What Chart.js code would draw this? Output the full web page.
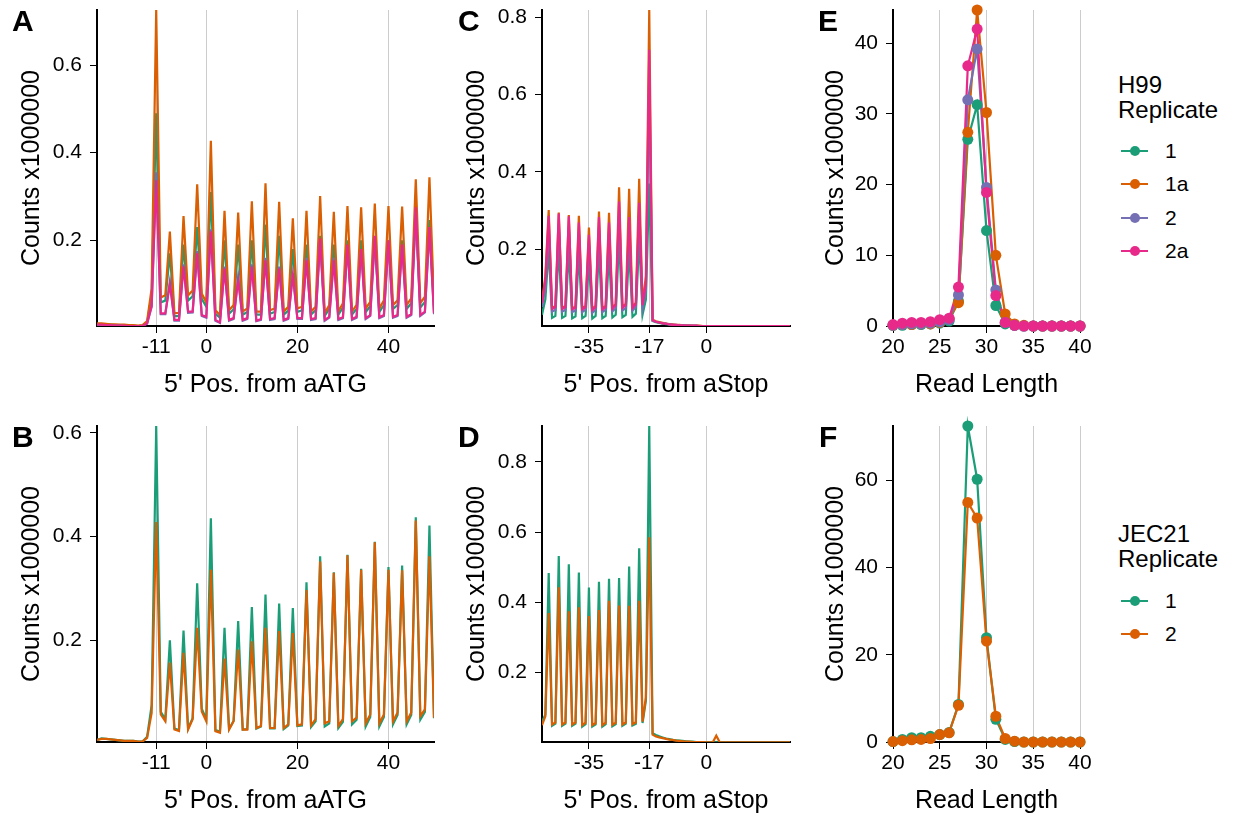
<!DOCTYPE html>
<html>
<head>
<meta charset="utf-8">
<script src="https://cdn.jsdelivr.net/npm/chart.js@4.4.1/dist/chart.umd.min.js"></script>
<style>
  body { margin: 0; background: #fff; width: 1238px; height: 821px; position: relative; overflow: hidden;
         font-family: "Liberation Sans", Arial, sans-serif; color: #000; }
  canvas { position: absolute; }
  .tag { position: absolute; font-weight: bold; font-size: 30px; line-height: 30px; }
  .legend-title { position: absolute; left: 1118px; font-size: 24px; line-height: 25px; }
  .legend-item { position: absolute; left: 1118px; height: 34px; line-height: 34px; font-size: 21px; }
  .legend-item .key-line { position: absolute; left: 3px; top: 16px; width: 27px; height: 2px; }
  .legend-item .key-dot { position: absolute; left: 11.5px; top: 12px; width: 10px; height: 10px; border-radius: 50%; }
  .legend-item .key-text { position: absolute; left: 47px; top: 0; white-space: nowrap; }
</style>
</head>
<body>
<script>
// colours (Dark2)
const cGreen = '#1B9E77', cOrange = '#D95F02', cPurple = '#7570B3', cPink = '#E7298A';

// x positions
const posATG = Array.from({length: 75}, (_, i) => i - 24);   // -24 .. 50
const posStop = Array.from({length: 75}, (_, i) => i - 49);  // -49 .. 25
const readLengths = [20,21,22,23,24,25,26,27,28,29,30,31,32,33,34,35,36,37,38,39,40];

// panel A: H99, aATG
const aatgH99_1 = [0.008,0.008,0.007,0.007,0.006,0.006,0.005,0.005,0.005,0.004,0.005,0.012,
  0.075,0.490,0.058,0.062, 0.170,0.026,0.027, 0.190,0.062,0.072, 0.230,0.066,0.048, 0.310,0.032,0.023,
  0.200,0.032,0.042, 0.190,0.030,0.036, 0.200,0.030,0.030, 0.236,0.032,0.036, 0.210,0.030,0.039,
  0.180,0.036,0.040, 0.190,0.030,0.040, 0.210,0.027,0.043, 0.190,0.030,0.046, 0.200,0.030,0.043,
  0.200,0.036,0.049, 0.205,0.036,0.052, 0.200,0.043,0.052, 0.200,0.043,0.056, 0.260,0.046,0.059,
  0.246,0.050];
const aatgH99_1a = [0.010,0.010,0.009,0.008,0.008,0.007,0.007,0.006,0.006,0.005,0.006,0.015,
  0.090,0.726,0.069,0.074, 0.220,0.033,0.034, 0.255,0.074,0.085, 0.328,0.078,0.058, 0.427,0.040,0.029,
  0.267,0.040,0.052, 0.263,0.037,0.044, 0.289,0.037,0.037, 0.330,0.040,0.044, 0.288,0.037,0.048,
  0.250,0.044,0.048, 0.267,0.037,0.048, 0.301,0.033,0.052, 0.265,0.037,0.056, 0.278,0.037,0.052,
  0.275,0.044,0.059, 0.284,0.044,0.063, 0.278,0.052,0.063, 0.277,0.052,0.067, 0.339,0.056,0.071,
  0.344,0.060];
const aatgH99_2 = [0.006,0.006,0.006,0.005,0.005,0.005,0.004,0.004,0.004,0.003,0.004,0.009,
  0.048,0.355,0.031,0.031, 0.105,0.016,0.016, 0.145,0.034,0.035, 0.175,0.027,0.023, 0.225,0.016,0.011,
  0.140,0.016,0.020, 0.115,0.016,0.020, 0.145,0.015,0.018, 0.160,0.018,0.020, 0.140,0.016,0.020,
  0.125,0.020,0.020, 0.160,0.018,0.020, 0.200,0.016,0.023, 0.160,0.018,0.022, 0.185,0.018,0.023,
  0.180,0.020,0.027, 0.205,0.022,0.027, 0.195,0.023,0.027, 0.190,0.023,0.029, 0.265,0.027,0.035,
  0.225,0.031];
const aatgH99_2a = [0.007,0.007,0.006,0.006,0.005,0.005,0.005,0.004,0.004,0.004,0.004,0.010,
  0.050,0.337,0.033,0.033, 0.100,0.018,0.018, 0.140,0.037,0.037, 0.170,0.029,0.025, 0.220,0.018,0.012,
  0.135,0.018,0.022, 0.110,0.018,0.022, 0.140,0.016,0.020, 0.154,0.020,0.022, 0.135,0.018,0.022,
  0.120,0.022,0.022, 0.154,0.020,0.022, 0.204,0.018,0.025, 0.154,0.020,0.024, 0.190,0.020,0.025,
  0.180,0.022,0.029, 0.210,0.024,0.029, 0.200,0.025,0.029, 0.190,0.025,0.031, 0.275,0.029,0.037,
  0.230,0.033];

// panel B: JEC21, aATG
const aatgJEC_1 = [0.008,0.011,0.010,0.009,0.008,0.007,0.006,0.006,0.006,0.005,0.005,0.014,
  0.075,0.613,0.062,0.048, 0.200,0.030,0.027, 0.219,0.030,0.050, 0.310,0.068,0.048, 0.435,0.027,0.024,
  0.224,0.029,0.045, 0.237,0.028,0.029, 0.264,0.030,0.034, 0.288,0.030,0.030, 0.271,0.029,0.036,
  0.262,0.035,0.036, 0.312,0.033,0.044, 0.362,0.034,0.040, 0.331,0.031,0.043, 0.365,0.038,0.047,
  0.338,0.034,0.052, 0.390,0.034,0.052, 0.341,0.038,0.056, 0.344,0.038,0.056, 0.437,0.047,0.062,
  0.421,0.050];
const aatgJEC_2 = [0.008,0.010,0.010,0.009,0.008,0.007,0.006,0.006,0.006,0.005,0.005,0.012,
  0.060,0.428,0.057,0.044, 0.157,0.028,0.025, 0.176,0.028,0.048, 0.224,0.063,0.044, 0.336,0.025,0.022,
  0.165,0.028,0.044, 0.182,0.028,0.028, 0.198,0.031,0.035, 0.224,0.031,0.031, 0.218,0.031,0.038,
  0.214,0.036,0.038, 0.297,0.036,0.048, 0.352,0.040,0.044, 0.330,0.035,0.048, 0.364,0.044,0.051,
  0.336,0.040,0.057, 0.389,0.040,0.057, 0.336,0.044,0.061, 0.335,0.044,0.061, 0.431,0.054,0.067,
  0.362,0.051];

// panel C: H99, aStop
const astopH99_1 = [0.030,0.070,
  0.200,0.022,0.027, 0.205,0.022,0.027, 0.200,0.021,0.026, 0.190,0.021,0.027, 0.170,0.020,0.027,
  0.200,0.021,0.027, 0.190,0.023,0.030, 0.230,0.024,0.030, 0.200,0.025,0.033, 0.230,0.030,0.070,
  0.370,
  0.014,0.011,0.009,0.007,0.006,0.005,0.004,0.003,0.003,0.002,0.002,0.002,0.001,0.001,0.001,0.001,0.001,
  0.001,0.001,0.001,0.001,0.001,0.001,0.001,0.001,0.001,0.001,0.001,0.001,0.001,
  0.001,0.001,0.001,0.001,0.001,0.001,0.001,0.001,0.001,0.001,0.001,0.001];
const astopH99_1a = [0.065,0.130,
  0.301,0.048,0.053, 0.295,0.048,0.053, 0.288,0.047,0.051, 0.286,0.047,0.053, 0.256,0.045,0.053,
  0.297,0.047,0.053, 0.294,0.049,0.058, 0.360,0.051,0.058, 0.356,0.051,0.061, 0.382,0.058,0.130,
  0.819,
  0.017,0.013,0.011,0.009,0.007,0.006,0.005,0.004,0.004,0.003,0.003,0.002,0.002,0.002,0.002,0.001,0.001,
  0.001,0.001,0.001,0.001,0.001,0.001,0.001,0.001,0.001,0.001,0.001,0.001,0.001,
  0.001,0.001,0.001,0.001,0.001,0.001,0.001,0.001,0.001,0.001,0.001,0.001];
const astopH99_2 = [0.050,0.100,
  0.260,0.038,0.043, 0.265,0.038,0.043, 0.258,0.037,0.041, 0.245,0.037,0.043, 0.215,0.035,0.043,
  0.255,0.037,0.043, 0.245,0.039,0.047, 0.295,0.041,0.047, 0.260,0.041,0.050, 0.290,0.047,0.095,
  0.640,
  0.015,0.012,0.010,0.008,0.007,0.005,0.004,0.004,0.003,0.003,0.002,0.002,0.002,0.002,0.001,0.001,0.001,
  0.001,0.001,0.001,0.001,0.001,0.001,0.001,0.001,0.001,0.001,0.001,0.001,0.001,
  0.001,0.001,0.001,0.001,0.001,0.001,0.001,0.001,0.001,0.001,0.001,0.001];
const astopH99_2a = [0.060,0.120,
  0.286,0.045,0.050, 0.292,0.045,0.050, 0.285,0.044,0.048, 0.269,0.044,0.050, 0.237,0.042,0.050,
  0.283,0.044,0.050, 0.269,0.046,0.055, 0.323,0.048,0.055, 0.283,0.048,0.058, 0.320,0.055,0.110,
  0.716,
  0.016,0.012,0.010,0.008,0.007,0.005,0.004,0.004,0.003,0.003,0.002,0.002,0.002,0.002,0.001,0.001,0.001,
  0.001,0.001,0.001,0.001,0.001,0.001,0.001,0.001,0.001,0.001,0.001,0.001,0.001,
  0.001,0.001,0.001,0.001,0.001,0.001,0.001,0.001,0.001,0.001,0.001,0.001];

// panel D: JEC21, aStop
const astopJEC_1 = [0.060,0.080,
  0.483,0.048,0.054, 0.532,0.048,0.054, 0.508,0.048,0.054, 0.485,0.046,0.053, 0.442,0.046,0.052,
  0.458,0.046,0.053, 0.467,0.047,0.053, 0.469,0.048,0.054, 0.502,0.049,0.054, 0.554,0.056,0.120,
  0.902,
  0.027,0.022,0.018,0.015,0.012,0.010,0.008,0.007,0.006,0.005,0.004,0.003,0.003,0.002,0.002,0.002,0.002,
  0.001,0.001,0.001,0.001,0.001,0.001,0.001,0.001,0.001,0.001,0.001,0.001,0.001,
  0.001,0.001,0.001,0.001,0.001,0.001,0.001,0.001,0.001,0.001,0.001,0.001];
const astopJEC_2 = [0.050,0.075,
  0.369,0.052,0.058, 0.443,0.052,0.058, 0.374,0.052,0.058, 0.386,0.050,0.057, 0.361,0.050,0.056,
  0.378,0.050,0.057, 0.404,0.051,0.057, 0.391,0.052,0.058, 0.390,0.053,0.058, 0.404,0.060,0.130,
  0.585,
  0.023,0.018,0.015,0.013,0.011,0.009,0.008,0.006,0.005,0.004,0.003,0.003,0.002,0.002,0.002,0.002,0.001,
  0.001,0.002,0.020,0.002,0.001,0.001,0.001,0.001,0.001,0.001,0.001,0.001,0.001,
  0.001,0.001,0.001,0.001,0.001,0.001,0.001,0.001,0.001,0.001,0.001,0.001];

// panel E / F: read length distributions
const lenH99_1  = [0.1,0.1,0.2,0.2,0.3,0.4,0.7,3.5,26.4,31.3,13.5,2.9,0.3,0.1,0,0,0,0,0,0,0];
const lenH99_1a = [0.1,0.2,0.2,0.3,0.3,0.5,1.0,3.3,27.4,44.7,30.2,10.0,1.7,0.3,0.1,0,0,0,0,0,0];
const lenH99_2  = [0.1,0.2,0.3,0.3,0.4,0.6,0.9,4.4,32.0,39.2,19.6,5.1,0.5,0.1,0,0,0,0,0,0,0];
const lenH99_2a = [0.2,0.4,0.5,0.5,0.6,0.9,1.1,5.5,36.8,42.0,18.9,4.3,0.5,0.1,0,0,0,0,0,0,0];
const lenJEC_1  = [0.1,0.6,1.0,1.0,1.3,1.7,2.2,8.6,72.4,60.2,23.9,5.2,0.6,0.1,0,0,0,0,0,0,0];
const lenJEC_2  = [0.1,0.3,0.5,0.6,0.8,1.7,2.1,8.4,54.9,51.3,23.1,5.9,0.8,0.2,0,0,0,0,0,0,0];

// ticks
const xTicksATG = [-11, 0, 20, 40];
const xTicksStop = [-35, -17, 0];
const xTicksLen = [20, 25, 30, 35, 40];
const yTicksAB = [0.2, 0.4, 0.6];
const yTicksCD = [0.2, 0.4, 0.6, 0.8];
const yTicksE = [0, 10, 20, 30, 40];
const yTicksF = [0, 20, 40, 60];

const h99Reps = ['1', '1a', '2', '2a'];
const h99Colors = [cGreen, cOrange, cPurple, cPink];
const jecReps = ['1', '2'];
const jecColors = [cGreen, cOrange];

const FONT = '"Liberation Sans", Arial, sans-serif';
Chart.defaults.font.family = FONT;
Chart.defaults.color = '#000';

function makePanel(o) {
    const W = o.yAxisWidth, H = 74, PT = 30, PR = 20;
    const w = W + (o.box.r - o.box.l) + PR;
    const h = PT + (o.box.b - o.box.t) + H;
    const cv = document.createElement('canvas');
    cv.width = w; cv.height = h;
    cv.style.width = w + 'px'; cv.style.height = h + 'px';
    cv.style.left = (o.box.l - W) + 'px';
    cv.style.top = (o.box.t - PT) + 'px';
    document.body.appendChild(cv);

    const datasets = [];
    o.series.forEach((vals, i) => {
        const pts = o.xs.map((x, j) => ({x: x, y: vals[j]}));
        const line = {
            data: pts, borderColor: o.colors[i], backgroundColor: o.colors[i],
            borderWidth: 2.2, pointRadius: 0, order: 100 - i
        };
        if (o.points) line.clip = false;
        datasets.push(line);
        if (o.points) {
            datasets.push({
                data: pts, showLine: false, pointRadius: 5.5, pointHoverRadius: 5.5,
                pointBackgroundColor: o.colors[i], pointBorderWidth: 0,
                order: 50 - i, clip: false
            });
        }
    });

    new Chart(cv, {
        type: 'line',
        data: { datasets: datasets },
        options: {
            responsive: false,
            animation: false,
            devicePixelRatio: 1,
            layout: { padding: { top: PT, right: PR, left: 0, bottom: 0 } },
            plugins: { legend: { display: false }, tooltip: { enabled: false } },
            elements: { line: { tension: 0 } },
            scales: {
                x: {
                    type: 'linear',
                    min: o.xMin, max: o.xMax,
                    afterBuildTicks: s => { s.ticks = o.xTicks.map(v => ({value: v})); },
                    afterFit: s => { s.height = H; },
                    grid: { color: '#cccccc', lineWidth: 1, tickColor: '#000', tickLength: 7, drawTicks: true },
                    border: { display: true, color: '#000', width: 2 },
                    ticks: { color: '#000', font: { size: 21 }, padding: 2, maxRotation: 0, autoSkip: false,
                             callback: v => String(v) },
                    title: { display: true, text: o.xTitle, color: '#000', font: { size: 25 },
                             padding: { top: 0, bottom: 0 } }
                },
                y: {
                    min: o.yMin, max: o.yMax,
                    afterBuildTicks: s => { s.ticks = o.yTicks.map(v => ({value: v})); },
                    afterFit: s => { s.width = W; },
                    grid: { drawOnChartArea: false, tickColor: '#000', tickLength: 7, drawTicks: true },
                    border: { display: true, color: '#000', width: 2 },
                    ticks: { color: '#000', font: { size: 21 }, padding: 8, autoSkip: false,
                             callback: v => String(v) },
                    title: { display: true, text: 'Counts x1000000', color: '#000', font: { size: 25 },
                             padding: { top: 0, bottom: 0 } }
                }
            }
        }
    });
}

makePanel({ box: {l: 97, r: 434, t: 10, b: 326}, yAxisWidth: 80,
    xs: posATG, xMin: -24, xMax: 50, xTicks: xTicksATG, xTitle: "5' Pos. from aATG",
    yMin: 0.004, yMax: 0.726, yTicks: yTicksAB,
    series: [aatgH99_1, aatgH99_1a, aatgH99_2, aatgH99_2a], colors: h99Colors });

makePanel({ box: {l: 97, r: 434, t: 426, b: 742}, yAxisWidth: 80,
    xs: posATG, xMin: -24, xMax: 50, xTicks: xTicksATG, xTitle: "5' Pos. from aATG",
    yMin: 0.004, yMax: 0.613, yTicks: yTicksAB,
    series: [aatgJEC_1, aatgJEC_2], colors: jecColors });

makePanel({ box: {l: 542, r: 790, t: 10, b: 326}, yAxisWidth: 80,
    xs: posStop, xMin: -49, xMax: 25, xTicks: xTicksStop, xTitle: "5' Pos. from aStop",
    yMin: 0.001, yMax: 0.819, yTicks: yTicksCD,
    series: [astopH99_1, astopH99_1a, astopH99_2, astopH99_2a], colors: h99Colors });

makePanel({ box: {l: 542, r: 790, t: 426, b: 742}, yAxisWidth: 80,
    xs: posStop, xMin: -49, xMax: 25, xTicks: xTicksStop, xTitle: "5' Pos. from aStop",
    yMin: 0.002, yMax: 0.902, yTicks: yTicksCD,
    series: [astopJEC_1, astopJEC_2], colors: jecColors });

makePanel({ box: {l: 893, r: 1080, t: 10, b: 326}, yAxisWidth: 72, points: true,
    xs: readLengths, xMin: 20, xMax: 40, xTicks: xTicksLen, xTitle: 'Read Length',
    yMin: 0, yMax: 44.7, yTicks: yTicksE,
    series: [lenH99_1, lenH99_1a, lenH99_2, lenH99_2a], colors: h99Colors });

makePanel({ box: {l: 893, r: 1080, t: 426, b: 742}, yAxisWidth: 72, points: true,
    xs: readLengths, xMin: 20, xMax: 40, xTicks: xTicksLen, xTitle: 'Read Length',
    yMin: 0, yMax: 72.4, yTicks: yTicksF,
    series: [lenJEC_1, lenJEC_2], colors: jecColors });

// panel letters
[['A', 12, 6], ['B', 12, 422], ['C', 458, 6], ['D', 458, 422], ['E', 818, 6], ['F', 819, 422]].forEach(t => {
    const d = document.createElement('div');
    d.className = 'tag';
    d.textContent = t[0];
    d.style.left = t[1] + 'px';
    d.style.top = t[2] + 'px';
    document.body.appendChild(d);
});

// legends
function makeLegend(titleLines, titleTop, firstCenter, names, colors) {
    const t = document.createElement('div');
    t.className = 'legend-title';
    t.style.top = titleTop + 'px';
    t.innerHTML = titleLines.join('<br>');
    document.body.appendChild(t);
    names.forEach((n, i) => {
        const it = document.createElement('div');
        it.className = 'legend-item';
        it.style.top = (firstCenter + i * 33.4 - 17) + 'px';
        it.innerHTML = '<div class="key-line" style="background:' + colors[i] + '"></div>' +
                       '<div class="key-dot" style="background:' + colors[i] + '"></div>' +
                       '<div class="key-text">' + n + '</div>';
        document.body.appendChild(it);
    });
}
makeLegend(['H99', 'Replicate'], 72, 151, h99Reps, h99Colors);
makeLegend(['JEC21', 'Replicate'], 521, 601, jecReps, jecColors);
</script>
</body>
</html>
